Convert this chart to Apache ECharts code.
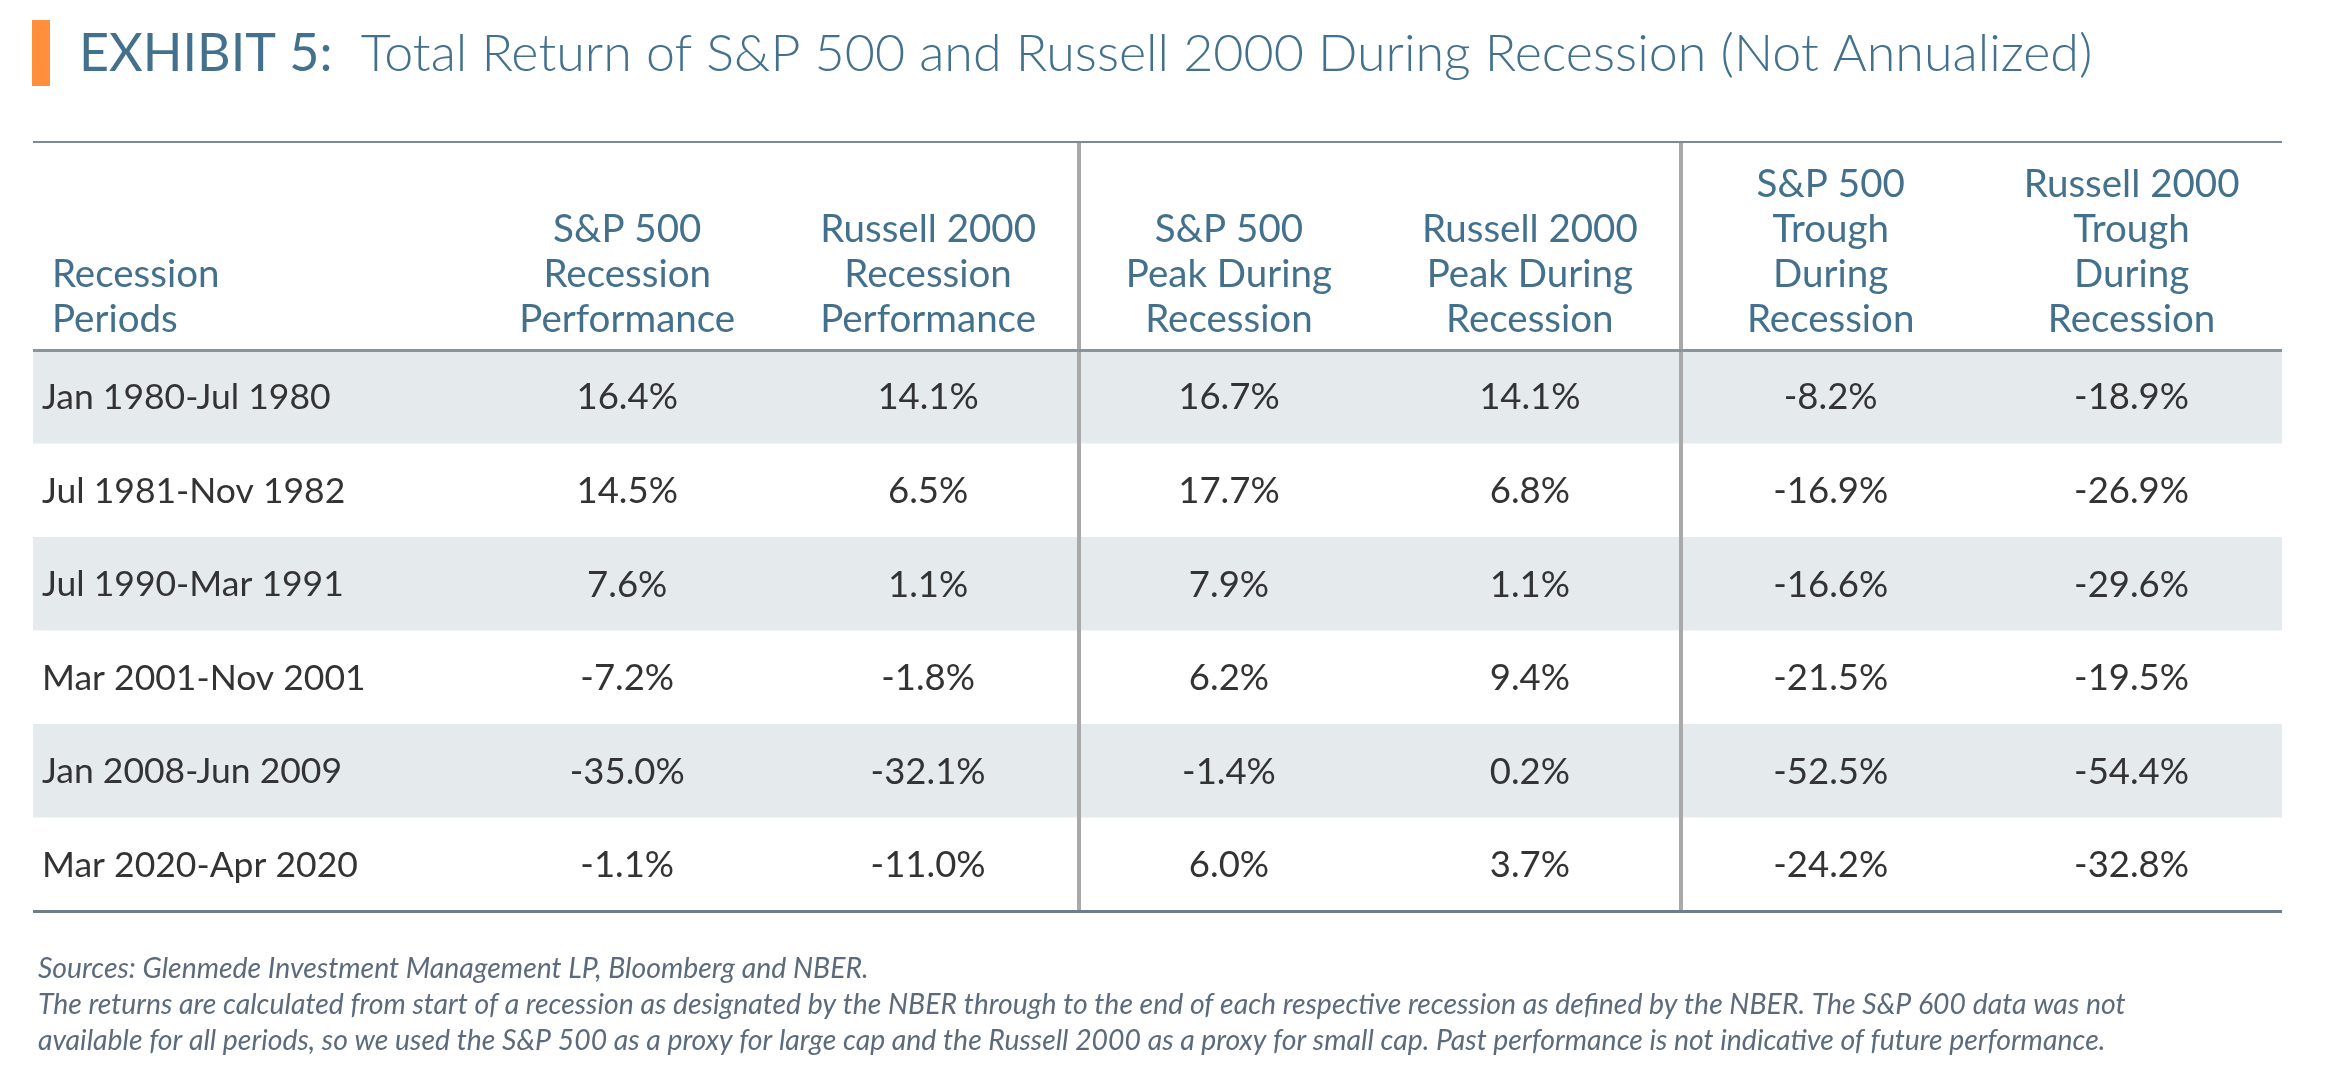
<!DOCTYPE html>
<html>
<head>
<meta charset="utf-8">
<script src="https://cdn.jsdelivr.net/npm/echarts@6/dist/echarts.min.js"></script>
<style>
html,body{margin:0;padding:0;background:#fff;}
#c{width:2334px;height:1084px;}
</style>
</head>
<body>
<div id="c"></div>
<script>
// ---- data ----
var periods = ['Jan 1980-Jul 1980', 'Jul 1981-Nov 1982', 'Jul 1990-Mar 1991', 'Mar 2001-Nov 2001', 'Jan 2008-Jun 2009', 'Mar 2020-Apr 2020'];
var spPerf    = [16.4, 14.5, 7.6, -7.2, -35.0, -1.1];
var rutPerf   = [14.1, 6.5, 1.1, -1.8, -32.1, -11.0];
var spPeak    = [16.7, 17.7, 7.9, 6.2, -1.4, 6.0];
var rutPeak   = [14.1, 6.8, 1.1, 9.4, 0.2, 3.7];
var spTrough  = [-8.2, -16.9, -16.6, -21.5, -52.5, -24.2];
var rutTrough = [-18.9, -26.9, -29.6, -19.5, -54.4, -32.8];
var firstHeader = 'Recession\nPeriods';
var headers = [
  'S&P 500\nRecession\nPerformance',
  'Russell 2000\nRecession\nPerformance',
  'S&P 500\nPeak During\nRecession',
  'Russell 2000\nPeak During\nRecession',
  'S&P 500\nTrough\nDuring\nRecession',
  'Russell 2000\nTrough\nDuring\nRecession'
];
var titleBold = 'EXHIBIT 5:';
var titleText = 'Total Return of S&P 500 and Russell 2000 During Recession (Not Annualized)';
var footnote = [
  'Sources: Glenmede Investment Management LP, Bloomberg and NBER.',
  'The returns are calculated from start of a recession as designated by the NBER through to the end of each respective recession as defined by the NBER. The S&P 600 data was not',
  'available for all periods, so we used the S&P 500 as a proxy for large cap and the Russell 2000 as a proxy for small cap. Past performance is not indicative of future performance.'
];

// ---- build ----
var columns = [spPerf, rutPerf, spPeak, rutPeak, spTrough, rutTrough];
var X_MIN = -1.475, X_MAX = 6, Y_MIN = -2.235, Y_MAX = 6;
var HEAD_COLOR = '#43718d';
var TEXT_COLOR = '#333333';
var FONT = 'Lato, "Noto Sans", sans-serif';

var cellData = [], cellText = [], cellAlign = [];
periods.forEach(function (p, r) {
  cellData.push([X_MIN, r + 0.5]); cellText.push(p); cellAlign.push('left');
  columns.forEach(function (col, c) {
    cellData.push([c + 0.5, r + 0.5]);
    cellText.push(col[r].toFixed(1) + '%');
    cellAlign.push('center');
  });
});
var headData = [[X_MIN, 0]], headText = [firstHeader], headAlign = ['left'];
headers.forEach(function (h, c) { headData.push([c + 0.5, 0]); headText.push(h); headAlign.push('center'); });
var shadeRows = [];
periods.forEach(function (p, r) { if (r % 2 === 0) shadeRows.push([X_MIN, r]); });

var chart = echarts.init(document.getElementById('c'), null, {renderer: 'canvas'});
chart.setOption({
  backgroundColor: '#ffffff',
  animation: false,
  title: [{
    left: 74, top: 16,
    text: '{a|' + titleBold + '}{b|  ' + titleText + '}',
    textStyle: {
      rich: {
        a: {fontFamily: FONT, fontSize: 52, fontWeight: 400, color: HEAD_COLOR, lineHeight: 66},
        b: {fontFamily: FONT, fontSize: 52, fontWeight: 300, color: HEAD_COLOR, lineHeight: 66}
      }
    }
  }, {
    left: 33, top: 946,
    text: footnote.join('\n'),
    textStyle: {fontFamily: FONT, fontSize: 28.4, fontStyle: 'italic', fontWeight: 400, color: '#5b6b7b', lineHeight: 36}
  }],
  graphic: [{
    type: 'rect', left: 32, top: 20, shape: {width: 18, height: 66},
    style: {fill: '#ff8f3c'}
  }],
  grid: {left: 33, right: 52, top: 141, bottom: 173, containLabel: false},
  xAxis: {type: 'value', min: X_MIN, max: X_MAX, show: false},
  yAxis: {type: 'value', min: Y_MIN, max: Y_MAX, inverse: true, show: false},
  series: [{
    type: 'custom', name: 'shade', z: 1, silent: true,
    data: shadeRows,
    encode: {x: 0, y: 1},
    renderItem: function (params, api) {
      var p0 = api.coord([X_MIN, api.value(1)]);
      var p1 = api.coord([X_MAX, api.value(1) + 1]);
      return {type: 'rect', shape: {x: p0[0], y: p0[1], width: p1[0] - p0[0], height: p1[1] - p0[1]}, style: {fill: '#e5eaed'}};
    }
  }, {
    type: 'custom', name: 'cells', z: 5, silent: true,
    data: cellData,
    encode: {x: 0, y: 1},
    renderItem: function (params, api) {
      var p = api.coord([api.value(0), api.value(1)]);
      var left = cellAlign[params.dataIndex] === 'left';
      return {type: 'text', x: p[0] + (left ? 9 : 0), y: p[1] + 1,
        style: {text: cellText[params.dataIndex], fill: TEXT_COLOR, fontFamily: FONT, fontSize: left ? 35.5 : 36.5,
          align: left ? 'left' : 'center', verticalAlign: 'middle'}};
    },
    markLine: {
      silent: true, symbol: 'none', label: {show: false}, z: 10,
      data: [
        {xAxis: 2, lineStyle: {color: '#a9a9a9', width: 4, type: 'solid'}},
        {xAxis: 4, lineStyle: {color: '#a9a9a9', width: 4, type: 'solid'}},
        {yAxis: Y_MIN, lineStyle: {color: '#7d8a94', width: 2, type: 'solid'}},
        {yAxis: 0, lineStyle: {color: '#8a949c', width: 3, type: 'solid'}},
        {yAxis: Y_MAX, lineStyle: {color: '#6f7d88', width: 3, type: 'solid'}}
      ]
    }
  }, {
    type: 'custom', name: 'headers', z: 5, silent: true,
    data: headData,
    encode: {x: 0, y: 1},
    renderItem: function (params, api) {
      var p = api.coord([api.value(0), api.value(1)]);
      var left = headAlign[params.dataIndex] === 'left';
      return {type: 'text', x: p[0] + (left ? 19 : 0), y: p[1] - 8,
        style: {text: headText[params.dataIndex], fill: HEAD_COLOR, fontFamily: FONT, fontSize: 38.5, lineHeight: 45,
          align: left ? 'left' : 'center', verticalAlign: 'bottom'}};
    }
  }]
});
</script>
</body>
</html>
